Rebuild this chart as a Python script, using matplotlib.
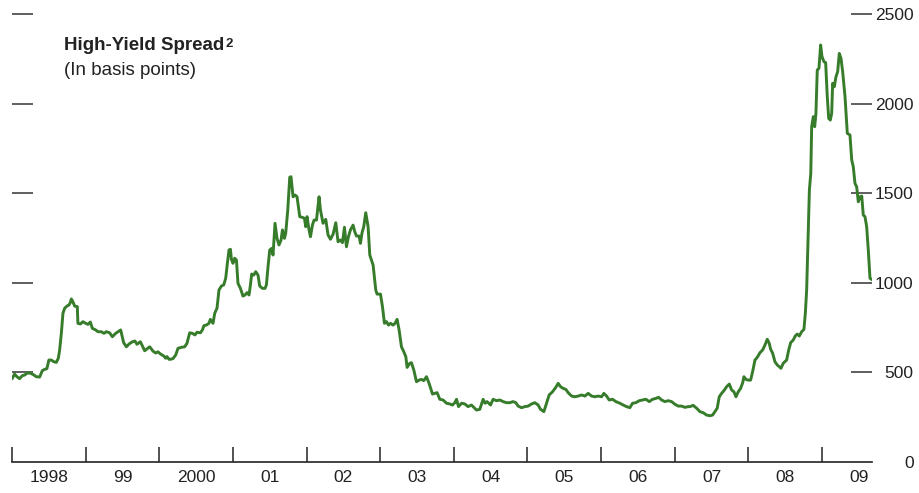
import numpy as np
from matplotlib import pyplot as plt
from matplotlib import font_manager

# High-yield spread, basis points (time as years since 1998)
t_1998 = [0.004, 0.035, 0.067, 0.103, 0.140, 0.171, 0.202, 0.239, 0.284, 0.330,
          0.375, 0.412, 0.443, 0.474, 0.501, 0.534, 0.565, 0.602, 0.629, 0.647,
          0.670, 0.692, 0.715, 0.746, 0.773, 0.792, 0.806, 0.827, 0.851, 0.887,
          0.895, 0.928, 0.963, 1.000, 1.031, 1.064, 1.091, 1.136, 1.167, 1.213,
          1.249, 1.281, 1.326, 1.363, 1.408, 1.439, 1.476, 1.516, 1.553, 1.588,
          1.635, 1.670, 1.697, 1.743, 1.802, 1.842, 1.870, 1.914, 1.951, 1.982,
          2.015, 2.060, 2.087, 2.105, 2.132]
v_1998 = [467, 491, 476, 465, 482, 485, 495, 497, 489, 476,
          474, 510, 517, 521, 569, 569, 560, 556, 579, 625,
          718, 830, 858, 870, 876, 889, 910, 894, 870, 867,
          774, 770, 783, 774, 768, 781, 746, 737, 727, 727,
          718, 727, 721, 699, 718, 727, 737, 666, 643, 658,
          671, 675, 657, 671, 621, 634, 643, 619, 608, 615,
          603, 592, 579, 588, 573]

t_2000 = [2.151, 2.186, 2.223, 2.254, 2.300, 2.345, 2.376, 2.413, 2.450, 2.485,
          2.512, 2.558, 2.586, 2.607, 2.640, 2.675, 2.694, 2.730, 2.753, 2.784,
          2.811, 2.844, 2.875, 2.902, 2.925, 2.947, 2.966, 2.980, 3.001, 3.024,
          3.048, 3.069, 3.102, 3.137, 3.164, 3.192, 3.219, 3.238, 3.255, 3.283,
          3.310, 3.341, 3.364, 3.401, 3.436, 3.455, 3.477, 3.500, 3.527, 3.545,
          3.572, 3.599, 3.626, 3.654, 3.673, 3.700, 3.717, 3.745, 3.772, 3.789,
          3.817, 3.844, 3.871, 3.908, 3.944, 3.971, 3.989, 4.007, 4.034, 4.053,
          4.080, 4.102, 4.135, 4.170, 4.189, 4.224, 4.261, 4.292, 4.325, 4.361,
          4.397, 4.428, 4.461, 4.488, 4.515, 4.542, 4.569, 4.596, 4.632, 4.655,
          4.678, 4.713, 4.732, 4.754, 4.777, 4.804, 4.836, 4.859, 4.882, 4.904,
          4.940, 4.958, 5.004, 5.031, 5.058, 5.086, 5.113, 5.140, 5.175, 5.202,
          5.230, 5.257, 5.289, 5.321, 5.348, 5.366, 5.402, 5.425, 5.457, 5.493,
          5.529, 5.561, 5.592, 5.629, 5.664, 5.711, 5.742, 5.773, 5.810, 5.855,
          5.901, 5.946, 5.982, 6.014, 6.037, 6.064]
v_2000 = [573, 577, 597, 634, 640, 643, 662, 721, 718, 709,
          724, 721, 737, 761, 764, 774, 796, 774, 830, 858,
          960, 982, 988, 1025, 1109, 1183, 1187, 1131, 1109, 1137,
          1127, 997, 969, 926, 932, 945, 932, 988, 1049, 1043,
          1062, 1043, 982, 969, 969, 988, 1090, 1183, 1192, 1155,
          1332, 1248, 1211, 1239, 1295, 1248, 1276, 1406, 1589, 1592,
          1480, 1490, 1480, 1369, 1365, 1360, 1313, 1369, 1295, 1257,
          1322, 1350, 1350, 1480, 1406, 1332, 1354, 1267, 1243, 1272,
          1335, 1229, 1239, 1224, 1310, 1201, 1257, 1295, 1322, 1285,
          1261, 1261, 1220, 1280, 1313, 1391, 1313, 1155, 1127, 1099,
          960, 937, 937, 867, 774, 783, 764, 774, 764, 774,
          796, 737, 643, 615, 588, 528, 551, 554, 513, 448,
          457, 461, 454, 476, 439, 379, 383, 387, 350, 346,
          328, 324, 318, 331, 350, 309]

t_2004 = [6.105, 6.149, 6.194, 6.240, 6.272, 6.308, 6.353, 6.398, 6.425, 6.452,
          6.499, 6.534, 6.580, 6.625, 6.670, 6.716, 6.761, 6.806, 6.842, 6.874,
          6.920, 6.965, 7.010, 7.056, 7.101, 7.145, 7.178, 7.223, 7.260, 7.295,
          7.341, 7.386, 7.417, 7.450, 7.485, 7.522, 7.553, 7.599, 7.644, 7.689,
          7.735, 7.780, 7.825, 7.871, 7.916, 7.961, 8.007, 8.038, 8.075, 8.110,
          8.156, 8.201, 8.255, 8.300, 8.346, 8.391, 8.428, 8.473, 8.518, 8.564,
          8.609, 8.654, 8.700, 8.745, 8.781, 8.822, 8.867, 8.912, 8.958, 9.003,
          9.048, 9.094, 9.139, 9.183]
v_2004 = [328, 324, 309, 318, 305, 290, 294, 350, 328, 337,
          318, 350, 342, 346, 337, 331, 331, 337, 331, 312,
          303, 309, 312, 324, 331, 318, 294, 281, 328, 374,
          392, 417, 439, 420, 411, 405, 387, 368, 364, 368,
          374, 368, 383, 368, 364, 368, 364, 383, 368, 346,
          350, 337, 328, 318, 309, 303, 328, 331, 342, 346,
          350, 337, 350, 355, 361, 346, 337, 342, 337, 322,
          312, 312, 305, 309]

t_2007 = [9.207, 9.251, 9.298, 9.342, 9.387, 9.433, 9.478, 9.515, 9.546, 9.577,
          9.605, 9.637, 9.668, 9.705, 9.741, 9.773, 9.804, 9.832, 9.863, 9.895,
          9.923, 9.940, 9.967, 9.999, 10.031, 10.058, 10.090, 10.121, 10.158, 10.194,
          10.226, 10.257, 10.284, 10.303, 10.330, 10.361, 10.393, 10.420, 10.443, 10.474,
          10.520, 10.548, 10.575, 10.610, 10.637, 10.664, 10.692, 10.724, 10.755, 10.774,
          10.792, 10.815, 10.829, 10.848, 10.860, 10.882, 10.901, 10.918, 10.936, 10.959,
          10.982, 11.000, 11.027, 11.050, 11.072, 11.091, 11.113, 11.132, 11.145, 11.167,
          11.190, 11.213, 11.235, 11.258, 11.281, 11.313, 11.344, 11.380, 11.404, 11.425,
          11.448, 11.471, 11.493, 11.516, 11.540, 11.561, 11.584, 11.607, 11.629, 11.652,
          11.675]
v_2007 = [309, 316, 300, 281, 275, 262, 258, 262, 281, 300,
          364, 383, 398, 420, 435, 402, 392, 364, 392, 411,
          442, 476, 461, 457, 457, 504, 569, 584, 610, 625,
          653, 685, 662, 629, 607, 560, 541, 532, 523, 551,
          569, 625, 666, 681, 703, 714, 703, 727, 740, 830,
          960, 1295, 1518, 1611, 1871, 1927, 1871, 1946, 2187, 2197,
          2327, 2262, 2234, 2228, 2038, 1918, 1908, 1946, 2113, 2094,
          2150, 2178, 2280, 2253, 2178, 2038, 1834, 1825, 1685, 1648,
          1555, 1536, 1452, 1480, 1484, 1378, 1369, 1313, 1183, 1025,
          1019]

year_labels = ['1998', '99', '2000', '01', '02', '03', '04', '05', '06', '07', '08', '09']
y_ticks = [0, 500, 1000, 1500, 2000, 2500]

names = [f.name for f in font_manager.fontManager.ttflist]
fam = 'Liberation Sans Narrow' if 'Liberation Sans Narrow' in names else 'Liberation Sans'
plt.rcParams['font.family'] = [fam, 'DejaVu Sans']

dates = 1998 + np.array(t_1998 + t_2000 + t_2004 + t_2007)
spread = np.array(v_1998 + v_2000 + v_2004 + v_2007)

fig = plt.figure(figsize=(9.2, 4.93), dpi=100)
ax = fig.add_axes([12/920, 1-462/493, 860/920, 448/493])
ax.plot(dates, spread, color='#367c2b', lw=2.1, solid_joinstyle='round')

ax.set_xlim(1998.0, 1998 + 859.6/73.6)
ax.set_ylim(0, 2500)
for s in ['top', 'left', 'right']:
    ax.spines[s].set_visible(False)
ax.spines['bottom'].set_color('#222222')
ax.spines['bottom'].set_linewidth(1.2)

# year boundaries as ticks, labels in the middle of each year
ax.set_xticks(np.arange(1998, 2010))
ax.set_xticklabels([])
ax.set_xticks(np.arange(1998, 2010) + 0.5, minor=True)
ax.set_xticklabels(year_labels, minor=True)
ax.tick_params(axis='x', which='major', direction='in', length=11, width=1.1, color='#222222')
ax.tick_params(axis='x', which='minor', length=0, pad=6, labelsize=12.5, labelcolor='#222222')

ax.set_yticks(y_ticks)
ax.set_yticklabels([str(v) for v in y_ticks])
ax.tick_params(axis='y', which='both', direction='in', length=15, width=1.1, color='#333333',
               left=True, right=True, labelleft=False, labelright=True,
               pad=30, labelsize=12.5, labelcolor='#222222')
for lab in ax.get_yticklabels():
    lab.set_horizontalalignment('right')
tk = ax.yaxis.get_major_ticks()[0]
tk.tick1line.set_visible(False)
tk.tick2line.set_visible(False)

title = fig.text(64/920, 1-50/493, 'High-Yield Spread', fontsize=13.5, fontweight='bold',
                 color='#222222', va='baseline')
ax.annotate('2', xy=(1, 1), xycoords=title, xytext=(1, -1), textcoords='offset points',
            ha='left', va='top', fontsize=9.5, fontweight='bold', color='#222222')
fig.text(64/920, 1-75/493, '(In basis points)', fontsize=13.5, color='#222222', va='baseline')

fig.savefig('out.png', dpi=100)
